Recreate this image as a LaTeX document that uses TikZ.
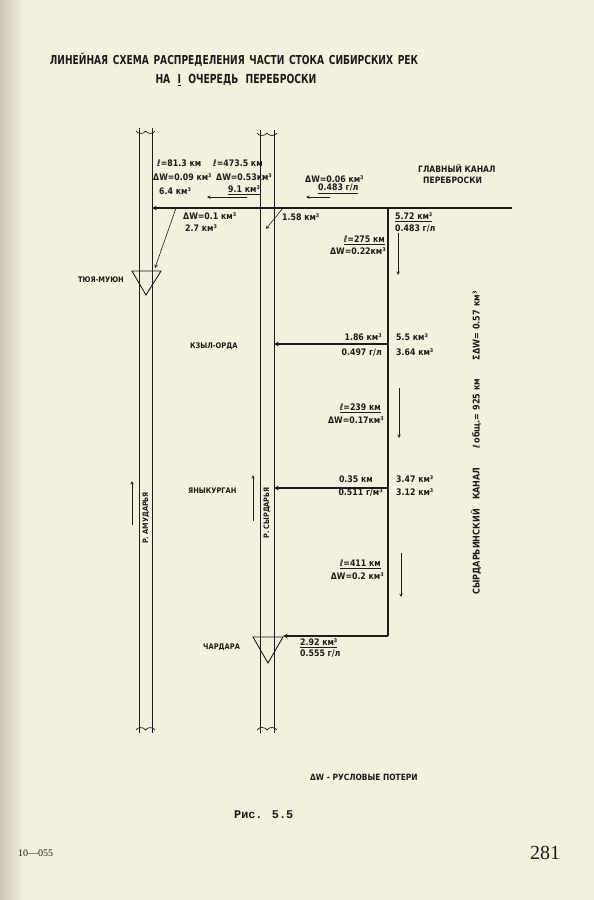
\documentclass[tikz,border=0pt]{standalone}
\usepackage{fontspec}
\setmainfont{DejaVu Sans}[FakeStretch=0.87]
\newfontfamily\titlefont{DejaVu Sans}[FakeStretch=0.74]
\newfontfamily\typefont{Liberation Mono}
\newfontfamily\pagefont{Liberation Serif}
\usetikzlibrary{calc}
\definecolor{paper}{RGB}{244,240,222}
\definecolor{shadow}{RGB}{205,200,180}
\definecolor{ink}{RGB}{28,28,28}

\begin{document}
\begin{tikzpicture}[x=1pt, y=-1pt, >=stealth, font=\fontsize{9}{10}\selectfont\bfseries,
	lbl/.style={inner sep=0pt, text=ink, anchor=west},
	place/.style={lbl, font=\fontsize{7.7}{9}\selectfont\bfseries},
	heading/.style={text=ink, inner sep=0pt, font=\titlefont\fontsize{12.5}{15}\selectfont\bfseries},
	river/.style={draw=ink, line width=0.7pt},
	canal/.style={draw=ink, line width=1.1pt},
	flow/.style={->, draw=ink, line width=0.6pt}]
		% page
		\fill[paper] (0,0) rectangle (594,900);
		\shade[left color=shadow, right color=paper] (0,0) rectangle (24,900);
		\useasboundingbox (0,0) rectangle (594,900);
		% title
		\node[heading, font=\titlefont\fontsize{12.3}{15}\selectfont\bfseries] (title1) at (234,60) {ЛИНЕЙНАЯ\hspace{1.5pt} СХЕМА\hspace{1.5pt} РАСПРЕДЕЛЕНИЯ\hspace{1.5pt} ЧАСТИ\hspace{1.5pt} СТОКА\hspace{1.5pt} СИБИРСКИХ\hspace{1.5pt} РЕК};
		\node[heading] (title2) at (236,80) {НА\hspace{4pt} \underline{I}\hspace{4pt} ОЧЕРЕДЬ\hspace{4pt} ПЕРЕБРОСКИ};
		% rivers (Amudarya, Syrdarya) with broken ends
		\foreach \xl/\xr/\xm/\yt in {139/152/145.5/131, 260/274/267/133} {
			\draw[river] (\xl,\yt-3) -- (\xl,733);
			\draw[river] (\xr,\yt-3) -- (\xr,733);
			\draw[river] (\xl-3,\yt) to[out=-60,in=-120] (\xm,\yt) to[out=-60,in=-120] (\xr+3,\yt);
			\draw[river] (\xl-3,730) to[out=60,in=120] (\xm,730) to[out=60,in=120] (\xr+3,730);
		}
		% dams
		\draw[river, line width=0.9pt] (132,271) -- (161,271) -- (146,295) -- cycle;
		\draw[river, line width=0.9pt] (253,637) -- (283,637) -- (268,663) -- cycle;
		% canals
		\coordinate (mainE) at (512,208);
		\coordinate (amuR) at (152,208);
		\coordinate (syrT) at (388,208);
		\coordinate (syrB) at (388,636);
		\coordinate (chaE) at (283,636);
		\coordinate (kzyl) at (274,344);
		\coordinate (kzylC) at (388,344);
		\coordinate (yany) at (274,488);
		\coordinate (yanyC) at (388,488);
		\draw[canal, ->] (mainE) -- (amuR);
		\draw[canal] (syrT) -- (syrB);
		\draw[canal, ->] (syrB) -- (chaE);
		\draw[canal, ->] (kzylC) -- (kzyl);
		\draw[canal, ->] (yanyC) -- (yany);
		% outlets to the rivers
		\coordinate (out1) at (176,208); \coordinate (tyuya) at (155,268);
		\coordinate (out2) at (283,208); \coordinate (syrIn) at (266,229);
		\draw[flow] (out1) -- (tyuya);
		\draw[flow] (out2) -- (syrIn);
		% direction arrows
		\foreach \xa/\ya/\xb/\yb in {247/197/207/197, 330/197/306/197, 398/233/398/275, 399/388/399/438, 401/553/401/597, 132/525/132/481, 253/521/253/475}
			\draw[flow] (\xa,\ya) -- (\xb,\yb);
		% top reach labels
		\node[lbl] (l1) at (157,163) {ℓ=81.3 км};
		\node[lbl] (l2) at (213,163) {ℓ=473.5 км};
		\node[lbl] (dw1) at (153,177) {ΔW=0.09 км³};
		\node[lbl] (dw2) at (216,177) {ΔW=0.53км³};
		\node[lbl] (q1) at (159,191) {6.4 км³};
		\node[lbl] (q2) at (228,190) {\underline{9.1 км³}};
		\node[lbl] (dw3) at (305,179) {ΔW=0.06 км³};
		\node[lbl] (c1) at (318,189) {\underline{0.483 г/л}};
		\node[lbl, font=\fontsize{8.8}{10}\selectfont\bfseries] (main) at (418,168) {ГЛАВНЫЙ КАНАЛ};
		\node[lbl, font=\fontsize{8.8}{10}\selectfont\bfseries] (main2) at (423,180) {ПЕРЕБРОСКИ};
		\node[lbl] (dw4) at (183,216) {ΔW=0.1 км³};
		\node[lbl] (q3) at (185,228) {2.7 км³};
		\node[lbl] (q4) at (282,217) {1.58 км³};
		% Syrdarya canal labels
		\node[lbl] (q5) at (395,217) {\underline{5.72 км³}};
		\node[lbl] (c2) at (395,229) {0.483 г/л};
		\node[lbl, anchor=east] (r1) at (385,240) {\underline{ℓ=275 км}};
		\node[lbl, anchor=east] (r1w) at (386,251) {ΔW=0.22км³};
		\node[lbl, anchor=east] (q6) at (382,337) {1.86 км³};
		\node[lbl, anchor=east] (c3) at (382,353) {0.497 г/л};
		\node[lbl] (q7) at (396,337) {5.5 км³};
		\node[lbl] (q8) at (396,352) {3.64 км³};
		\node[lbl, anchor=east] (r2) at (381,408) {\underline{ℓ=239 км}};
		\node[lbl, anchor=east] (r2w) at (384,420) {ΔW=0.17км³};
		\node[lbl, anchor=east] (q9) at (373,479) {0.35 км};
		\node[lbl, anchor=east] (c4) at (383,493) {0.511 г/м³};
		\node[lbl] (q10) at (396,479) {3.47 км³};
		\node[lbl] (q11) at (396,492) {3.12 км³};
		\node[lbl, anchor=east] (r3) at (381,564) {\underline{ℓ=411 км}};
		\node[lbl, anchor=east] (r3w) at (384,576) {ΔW=0.2 км³};
		\node[lbl] (q12) at (300,643) {\underline{2.92 км³}};
		\node[lbl] (c5) at (300,654) {0.555 г/л};
		% places
		\node[place, anchor=east] (tyuyaL) at (124,280) {ТЮЯ-МУЮН};
		\node[place] (kzylL) at (190,346) {КЗЫЛ-ОРДА};
		\node[place] (yanyL) at (188,491) {ЯНЫКУРГАН};
		\node[place] (chaL) at (203,647) {ЧАРДАРА};
		\node[place, anchor=center, rotate=90, font=\fontsize{7.5}{9}\selectfont\bfseries] (amuL) at (146,518) {Р. АМУДАРЬЯ};
		\node[place, anchor=center, rotate=90, font=\fontsize{7.5}{9}\selectfont\bfseries] (syrL) at (267,513) {Р. СЫРДАРЬЯ};
		\node[lbl, anchor=center, rotate=90, font=\fontsize{9.3}{10}\selectfont\bfseries] (canalL) at (476,443) {СЫРДАРЬИНСКИЙ\quad КАНАЛ\qquad ℓ\,общ.= 925 км\qquad ΣΔW= 0.57 км³};
		% legend, caption, page
		\node[lbl, font=\fontsize{8.6}{10}\selectfont\bfseries] (legend) at (310,777) {ΔW - РУСЛОВЫЕ ПОТЕРИ};
		\node[lbl, font=\typefont\fontsize{11.8}{13}\selectfont\bfseries] (fig) at (234,815) {Рис. 5.5};
		\node[lbl, font=\pagefont\fontsize{10}{11}\selectfont] (code) at (18,853) {10—055};
		\node[lbl, font=\pagefont\fontsize{20}{22}\selectfont] (page) at (530,853) {281};
	\end{tikzpicture}
\end{document}
